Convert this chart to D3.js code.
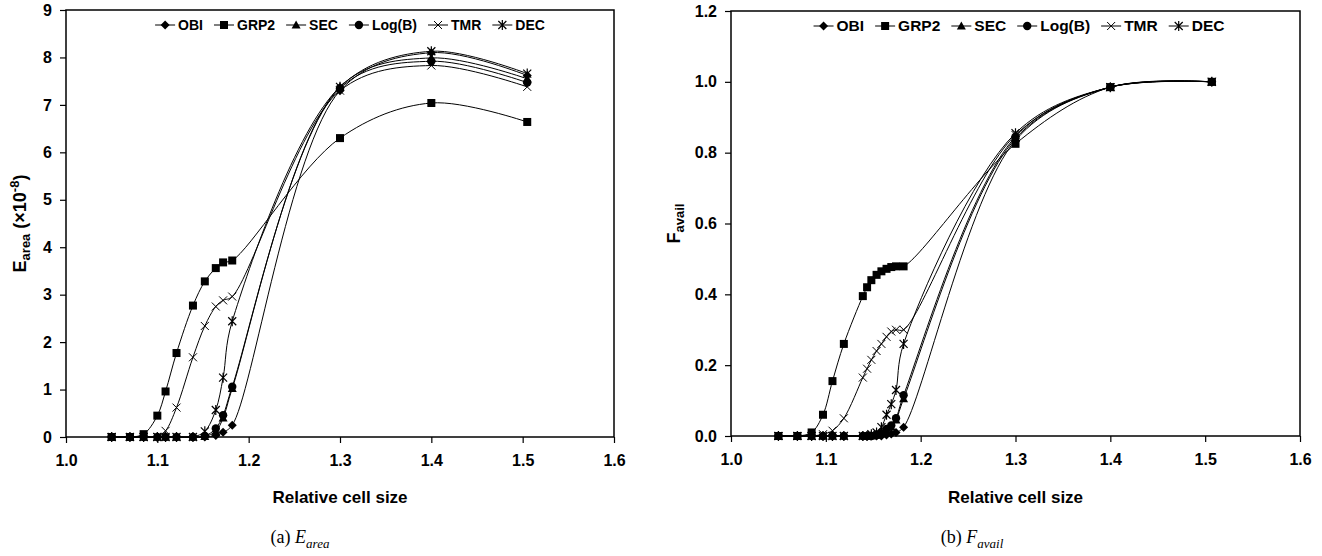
<!DOCTYPE html>
<html>
<head>
<meta charset="utf-8">
<script src="https://cdn.jsdelivr.net/npm/d3@7"></script>
<style>
  body { margin: 0; background: #fff; }
  text { font-family: "Liberation Sans", Arial, sans-serif; font-weight: bold; fill: #000; }
  .cap { font-family: "Liberation Serif", "Times New Roman", serif; font-weight: normal; }
</style>
</head>
<body>
<svg width="1322" height="556"></svg>
<script>
let W = 1322, H = 556;

const seriesNames = ["OBI", "GRP2", "SEC", "Log(B)", "TMR", "DEC"];
const xTicks = [1.0, 1.1, 1.2, 1.3, 1.4, 1.5, 1.6];
const eareaTicks = [0, 1, 2, 3, 4, 5, 6, 7, 8, 9];
const favailTicks = [0, 0.2, 0.4, 0.6, 0.8, 1.0, 1.2];

// (a) E_area, x10^-8
const xEarea = [1.05, 1.07, 1.085, 1.1, 1.109, 1.121, 1.139, 1.152, 1.164, 1.172, 1.182, 1.3, 1.4, 1.505];
const eareaObi  = [0, 0, 0, 0, 0, 0, 0, 0, 0.03, 0.1, 0.25, 7.3, 8.1, 7.62];
const eareaGrp2 = [0, 0, 0.06, 0.45, 0.96, 1.77, 2.77, 3.28, 3.56, 3.68, 3.72, 6.3, 7.04, 6.64];
const eareaSec  = [0, 0, 0, 0, 0, 0, 0, 0.01, 0.12, 0.4, 1.02, 7.38, 7.99, 7.55];
const eareaLogb = [0, 0, 0, 0, 0, 0, 0, 0.02, 0.18, 0.46, 1.06, 7.35, 7.92, 7.47];
const eareaTmr  = [0, 0, 0, 0, 0.13, 0.62, 1.68, 2.34, 2.75, 2.88, 2.96, 7.3, 7.83, 7.38];
const eareaDec  = [0, 0, 0, 0, 0, 0, 0, 0.12, 0.57, 1.25, 2.44, 7.38, 8.13, 7.66];

// (b) F_avail
const xFavail = [1.05, 1.07, 1.085, 1.097, 1.107, 1.119, 1.139, 1.1435, 1.148, 1.1535, 1.1586, 1.164, 1.169, 1.174, 1.182, 1.3, 1.4, 1.507];
const favailObi  = [0, 0, 0, 0, 0, 0, 0, 0, 0, 0, 0, 0.003, 0.006, 0.01, 0.025, 0.835, 0.985, 1.0];
const favailGrp2 = [0, 0, 0.01, 0.06, 0.155, 0.26, 0.395, 0.42, 0.44, 0.455, 0.465, 0.472, 0.477, 0.479, 0.479, 0.825, 0.985, 1.0];
const favailSec  = [0, 0, 0, 0, 0, 0, 0, 0, 0, 0.002, 0.006, 0.015, 0.025, 0.045, 0.105, 0.84, 0.985, 1.0];
const favailLogb = [0, 0, 0, 0, 0, 0, 0, 0, 0, 0.003, 0.008, 0.02, 0.03, 0.05, 0.115, 0.845, 0.985, 1.0];
const favailTmr  = [0, 0, 0, 0.005, 0.015, 0.05, 0.165, 0.19, 0.215, 0.24, 0.26, 0.28, 0.295, 0.3, 0.3, 0.85, 0.985, 1.0];
const favailDec  = [0, 0, 0, 0, 0, 0, 0, 0, 0.005, 0.01, 0.025, 0.06, 0.09, 0.13, 0.26, 0.855, 0.985, 1.0];

let svg = d3.select("svg");

function marker(g, name, cx, cy) {
    let m = g.append("g").attr("transform", "translate(" + cx + "," + cy + ")");
    if (name === "OBI") {
        m.append("path").attr("d", "M0,-4.5L4.5,0L0,4.5L-4.5,0Z").attr("fill", "#000");
    } else if (name === "GRP2") {
        m.append("rect").attr("x", -4).attr("y", -4).attr("width", 8).attr("height", 8).attr("fill", "#000");
    } else if (name === "SEC") {
        m.append("path").attr("d", "M0,-4.5L4.5,3.5L-4.5,3.5Z").attr("fill", "#000");
    } else if (name === "Log(B)") {
        m.append("circle").attr("r", 4.2).attr("fill", "#000");
    } else if (name === "TMR") {
        m.append("path").attr("d", "M-4,-4L4,4M-4,4L4,-4").attr("stroke", "#000").attr("stroke-width", 1);
    } else {
        m.append("path").attr("d", "M-4,-4L4,4M-4,4L4,-4M0,-5L0,5").attr("stroke", "#000").attr("stroke-width", 1.2);
    }
}

function drawChart(cfg) {
    let x = d3.scaleLinear().domain([1.0, 1.6]).range([cfg.left, cfg.right]);
    let y = d3.scaleLinear().domain(cfg.yDomain).range([cfg.bottom, cfg.top]);
    let g = svg.append("g");

    // axes
    let xa = g.append("g").attr("transform", "translate(0," + cfg.bottom + ")")
        .call(d3.axisBottom(x).tickValues(xTicks).tickFormat(d3.format(".1f")).tickSize(6).tickPadding(12));
    let ya = g.append("g").attr("transform", "translate(" + cfg.left + ",0)")
        .call(d3.axisLeft(y).tickValues(cfg.yTicks).tickFormat(cfg.yFormat).tickSize(6).tickPadding(8));
    [xa, ya].forEach(function (a) {
        a.select(".domain").remove();
        a.selectAll("line").attr("stroke", "#000").attr("stroke-width", 1.2);
        a.selectAll("text").style("font-size", "16px").style("font-family", null);
    });

    g.append("rect")
        .attr("x", cfg.left).attr("y", cfg.top)
        .attr("width", cfg.right - cfg.left).attr("height", cfg.bottom - cfg.top)
        .attr("fill", "none").attr("stroke", "#000").attr("stroke-width", 1.5);

    // smoothed lines
    let line = d3.line()
        .x(function (d) { return x(d[0]); })
        .y(function (d) { return y(d[1]); })
        .curve(d3.curveCatmullRom.alpha(0.5));

    cfg.series.forEach(function (vals, i) {
        let pts = cfg.xs.map(function (v, j) { return [v, vals[j]]; });
        g.append("path").attr("d", line(pts)).attr("fill", "none")
            .attr("stroke", "#000").attr("stroke-width", 1);
        pts.forEach(function (p) { marker(g, seriesNames[i], x(p[0]), y(p[1])); });
    });

    // legend
    let lg = g.append("g");
    let cursor = 0;
    seriesNames.forEach(function (name) {
        lg.append("line").attr("x1", cursor).attr("x2", cursor + 20)
            .attr("y1", 0).attr("y2", 0).attr("stroke", "#000").attr("stroke-width", 1);
        marker(lg, name, cursor + 10, 0);
        let t = lg.append("text").attr("x", cursor + 23).attr("y", 0).attr("dy", "0.35em")
            .style("font-size", cfg.legendSize + "px").text(name);
        cursor += 23 + t.node().getComputedTextLength() + 11;
    });
    cursor -= 11;
    lg.attr("transform", "translate(" + (cfg.legendCenter - cursor / 2) + "," + cfg.legendY + ")");

    // axis titles
    let cx = (cfg.left + cfg.right) / 2;
    g.append("text").attr("x", cx).attr("y", 503).attr("text-anchor", "middle")
        .style("font-size", "17px").text("Relative cell size");

    let yt = g.append("text").attr("text-anchor", "middle")
        .attr("transform", "translate(" + cfg.yTitleX + "," + ((cfg.top + cfg.bottom) / 2) + ") rotate(-90)")
        .style("font-size", "18px");
    cfg.yTitle(yt);

    // caption
    let cap = g.append("text").attr("class", "cap").attr("x", cfg.capX).attr("y", 543)
        .attr("text-anchor", "middle").style("font-size", "18px");
    cap.append("tspan").text(cfg.capLabel + " ");
    cap.append("tspan").style("font-style", "italic").text(cfg.capMain);
    cap.append("tspan").style("font-style", "italic").style("font-size", "13px")
        .attr("dy", "5").text(cfg.capSub);
}

drawChart({
    left: 66, right: 614, top: 10, bottom: 437,
    yDomain: [0, 9], yTicks: eareaTicks, yFormat: d3.format("d"),
    xs: xEarea,
    series: [eareaObi, eareaGrp2, eareaSec, eareaLogb, eareaTmr, eareaDec],
    legendCenter: 350, legendY: 25, legendSize: 14,
    yTitleX: 26,
    yTitle: function (t) {
        t.append("tspan").text("E");
        t.append("tspan").style("font-size", "13px").attr("dy", "4").text("area");
        t.append("tspan").attr("dy", "-4").text(" (\u00d710");
        t.append("tspan").style("font-size", "13px").attr("dy", "-7").text("-8");
        t.append("tspan").attr("dy", "7").text(")");
    },
    capX: 300, capLabel: "(a)", capMain: "E", capSub: "area"
});

drawChart({
    left: 731, right: 1300, top: 11, bottom: 436,
    yDomain: [0, 1.2], yTicks: favailTicks, yFormat: d3.format(".1f"),
    xs: xFavail,
    series: [favailObi, favailGrp2, favailSec, favailLogb, favailTmr, favailDec],
    legendCenter: 1019, legendY: 26, legendSize: 15.5,
    yTitleX: 680,
    yTitle: function (t) {
        t.append("tspan").text("F");
        t.append("tspan").style("font-size", "13px").attr("dy", "4").text("avail");
    },
    capX: 972, capLabel: "(b)", capMain: "F", capSub: "avail"
});
</script>
</body>
</html>
